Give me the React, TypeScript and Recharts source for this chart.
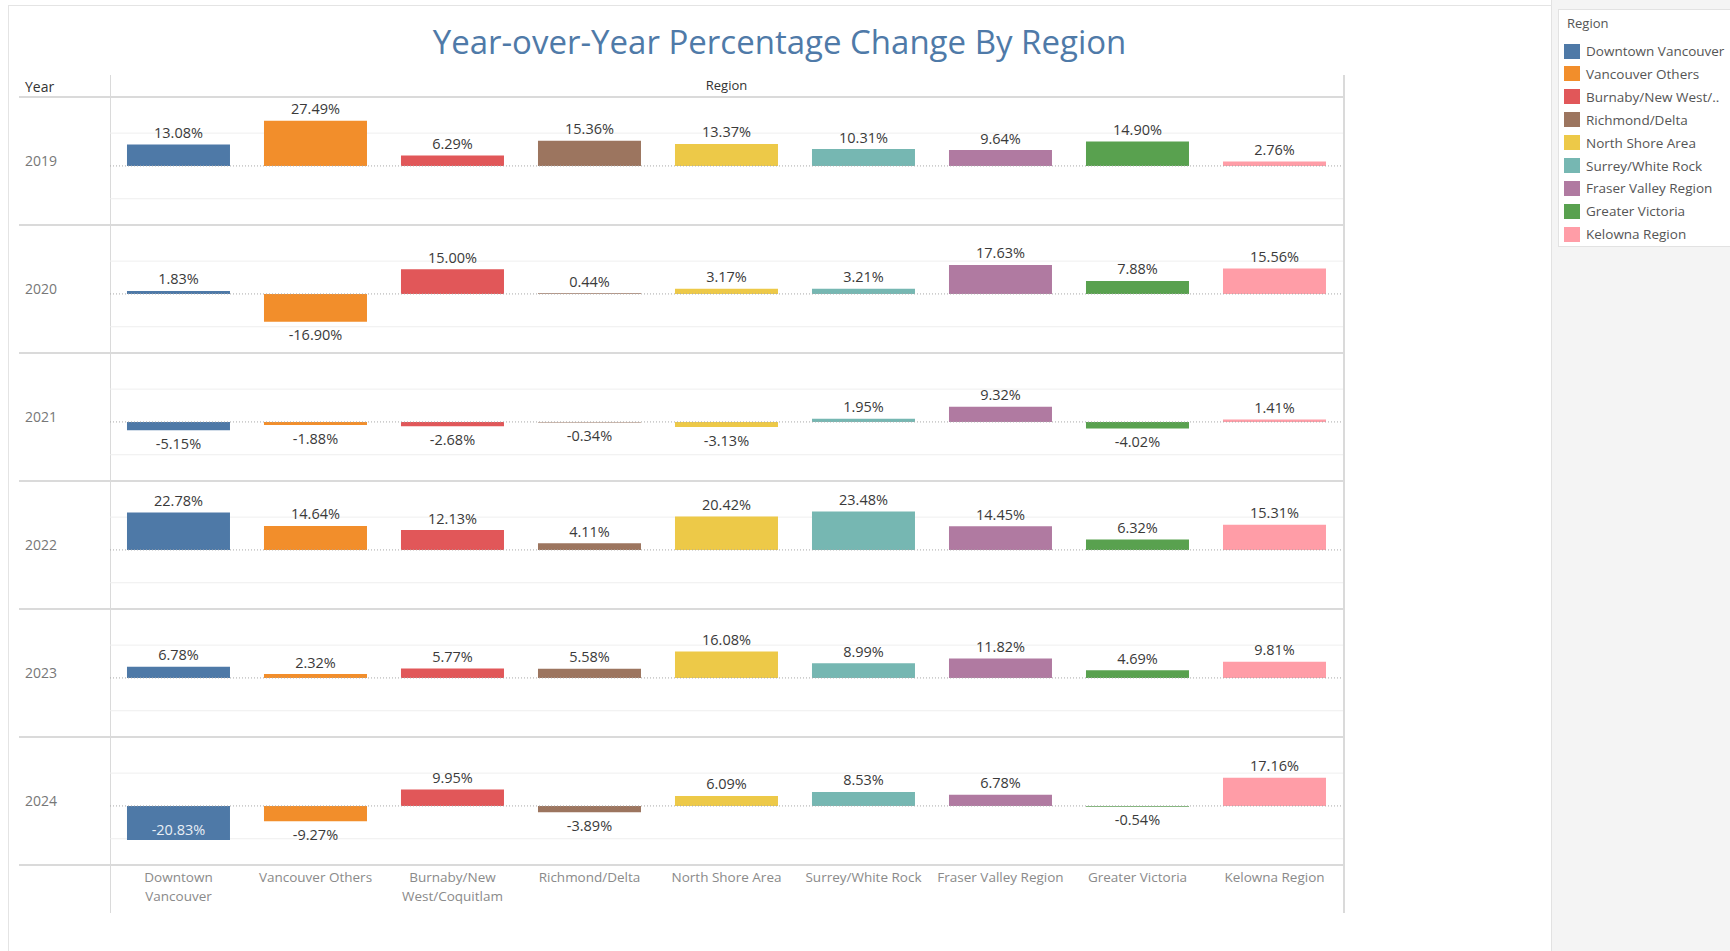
import React from 'react';
import { BarChart, Bar, XAxis, YAxis, Cell, LabelList, ReferenceLine, CartesianGrid } from 'recharts';

const regions = [
  'Downtown Vancouver',
  'Vancouver Others',
  'Burnaby/New West/Coquitlam',
  'Richmond/Delta',
  'North Shore Area',
  'Surrey/White Rock',
  'Fraser Valley Region',
  'Greater Victoria',
  'Kelowna Region',
];
const axisLabelLines: string[][] = [
  ['Downtown', 'Vancouver'],
  ['Vancouver Others'],
  ['Burnaby/New', 'West/Coquitlam'],
  ['Richmond/Delta'],
  ['North Shore Area'],
  ['Surrey/White Rock'],
  ['Fraser Valley Region'],
  ['Greater Victoria'],
  ['Kelowna Region'],
];
const legendLabels = [
  'Downtown Vancouver',
  'Vancouver Others',
  'Burnaby/New West/..',
  'Richmond/Delta',
  'North Shore Area',
  'Surrey/White Rock',
  'Fraser Valley Region',
  'Greater Victoria',
  'Kelowna Region',
];
const colors = ['#4E79A7', '#F28E2B', '#E15759', '#9C755F', '#EDC948', '#76B7B2', '#B07AA1', '#59A14F', '#FF9DA7'];

const years = ['2019', '2020', '2021', '2022', '2023', '2024'];
const values2019 = [13.08, 27.49, 6.29, 15.36, 13.37, 10.31, 9.64, 14.9, 2.76];
const values2020 = [1.83, -16.9, 15.0, 0.44, 3.17, 3.21, 17.63, 7.88, 15.56];
const values2021 = [-5.15, -1.88, -2.68, -0.34, -3.13, 1.95, 9.32, -4.02, 1.41];
const values2022 = [22.78, 14.64, 12.13, 4.11, 20.42, 23.48, 14.45, 6.32, 15.31];
const values2023 = [6.78, 2.32, 5.77, 5.58, 16.08, 8.99, 11.82, 4.69, 9.81];
const values2024 = [-20.83, -9.27, 9.95, -3.89, 6.09, 8.53, 6.78, -0.54, 17.16];
const yearValues = [values2019, values2020, values2021, values2022, values2023, values2024];

const yDomain = [-36, 42];
const gridValues = [-20, 20];

const FONT = '"Open Sans", sans-serif';

const PLOT_LEFT = 110;
const PLOT_WIDTH = 1233;
const HEADER_Y = 97;
const ROW_H = 128;

const renderValueLabel = (props: any) => {
  const vb = props.viewBox || props;
  const x = Number(vb.x ?? props.x);
  const y = Number(vb.y ?? props.y);
  const w = Number(vb.width ?? props.width);
  const h = Number(vb.height ?? props.height);
  const value = Number(props.value);
  const top = Math.min(y, y + h);
  const bottom = Math.max(y, y + h);
  const cx = x + w / 2;
  let ty: number;
  let fill = '#3a3a3a';
  if (value >= 0) ty = top - 12;
  else if (value <= -20) {
    ty = bottom - 11;
    fill = '#e8eef5';
  } else ty = bottom + 13;
  return (
    <text x={cx} y={ty} textAnchor="middle" dominantBaseline="central" fontSize={14.5} fontFamily={FONT} fill={fill}>
      {value.toFixed(2)}%
    </text>
  );
};

const AxisTick = (props: any) => {
  const { x, y, index } = props;
  const lines = axisLabelLines[index] || [];
  return (
    <g>
      {lines.map((l, i) => (
        <text key={i} x={x} y={y + 4 + i * 19} textAnchor="middle" dominantBaseline="central" fontSize={13.5} fontFamily={FONT} fill="#8a8a8a">
          {l}
        </text>
      ))}
    </g>
  );
};

function RowChart({ values, withAxis }: { values: number[]; withAxis: boolean }) {
  const data = regions.map((r, i) => ({ region: r, value: values[i] }));
  const axisH = withAxis ? 50 : 0;
  return (
    <BarChart width={PLOT_WIDTH} height={ROW_H + axisH} data={data} margin={{ top: 0, right: 0, bottom: 0, left: 0 }} barCategoryGap="12.4%">
      <CartesianGrid vertical={false} horizontalValues={gridValues} stroke="#efefef" strokeWidth={1} />
      <XAxis dataKey="region" hide={!withAxis} height={axisH} axisLine={false} tickLine={false} interval={0} tick={<AxisTick />} />
      <YAxis hide type="number" domain={yDomain} allowDataOverflow />
      <ReferenceLine y={0} stroke="#a8a8a8" strokeWidth={1} strokeDasharray="1 2" />
      <Bar dataKey="value" isAnimationActive={false}>
        {data.map((d, i) => (
          <Cell key={d.region} fill={colors[i]} />
        ))}
        <LabelList dataKey="value" content={renderValueLabel} />
      </Bar>
    </BarChart>
  );
}

export default function App() {
  const lineColor = '#dadada';
  return (
    <div style={{ position: 'absolute', left: 0, top: 0, width: 1730, height: 951, overflow: 'hidden', background: '#fff', fontFamily: FONT }}>
      {/* right gray area */}
      <div style={{ position: 'absolute', left: 1551, top: 0, width: 179, height: 951, background: '#f4f4f4', borderLeft: '1px solid #e2e2e2' }} />
      {/* outer frame */}
      <div style={{ position: 'absolute', left: 8, top: 5, width: 1543, height: 960, borderLeft: '1px solid #e4e4e4', borderTop: '1px solid #e4e4e4' }} />
      {/* title */}
      <div style={{ position: 'absolute', left: 8, top: 20, width: 1543, textAlign: 'center', fontSize: 33, lineHeight: '44px', color: '#4f7aa8' }}>
        Year-over-Year Percentage Change By Region
      </div>
      {/* legend */}
      <div style={{ position: 'absolute', left: 1558, top: 9, width: 190, height: 236, background: '#fff', border: '1px solid #e2e2e2' }}>
        <div style={{ position: 'absolute', left: 8, top: 4, fontSize: 13, color: '#555' }}>Region</div>
        {legendLabels.map((l, i) => (
          <div key={l} style={{ position: 'absolute', left: 5, top: 33 + i * 22.9, height: 16, display: 'flex', alignItems: 'center' }}>
            <div style={{ width: 16, height: 15, background: colors[i] }} />
            <div style={{ marginLeft: 6, fontSize: 13.5, color: '#555', whiteSpace: 'nowrap' }}>{l}</div>
          </div>
        ))}
      </div>
      {/* headers */}
      <div style={{ position: 'absolute', left: 25, top: 77, fontSize: 14, color: '#333' }}>Year</div>
      <div style={{ position: 'absolute', left: PLOT_LEFT, width: PLOT_WIDTH, top: 76, textAlign: 'center', fontSize: 13, color: '#333' }}>Region</div>
      {/* vertical lines */}
      <div style={{ position: 'absolute', left: PLOT_LEFT, top: 75, width: 1, height: 838, background: lineColor }} />
      <div style={{ position: 'absolute', left: PLOT_LEFT + PLOT_WIDTH, top: 75, width: 2, height: 838, background: lineColor }} />
      {/* horizontal lines */}
      {[0, 1, 2, 3, 4, 5, 6].map((i) => (
        <div key={i} style={{ position: 'absolute', left: 19, top: HEADER_Y + ROW_H * i - 1, width: PLOT_LEFT + PLOT_WIDTH - 19, height: 2, background: lineColor }} />
      ))}
      {/* year labels */}
      {years.map((y, i) => (
        <div key={y} style={{ position: 'absolute', left: 25, top: HEADER_Y + ROW_H * i + 64 - 10, fontSize: 14, lineHeight: '20px', color: '#777' }}>
          {y}
        </div>
      ))}
      {/* row charts */}
      {yearValues.map((vals, i) => (
        <div key={years[i]} style={{ position: 'absolute', left: PLOT_LEFT, top: HEADER_Y + ROW_H * i }}>
          <RowChart values={vals} withAxis={i === yearValues.length - 1} />
        </div>
      ))}
    </div>
  );
}
